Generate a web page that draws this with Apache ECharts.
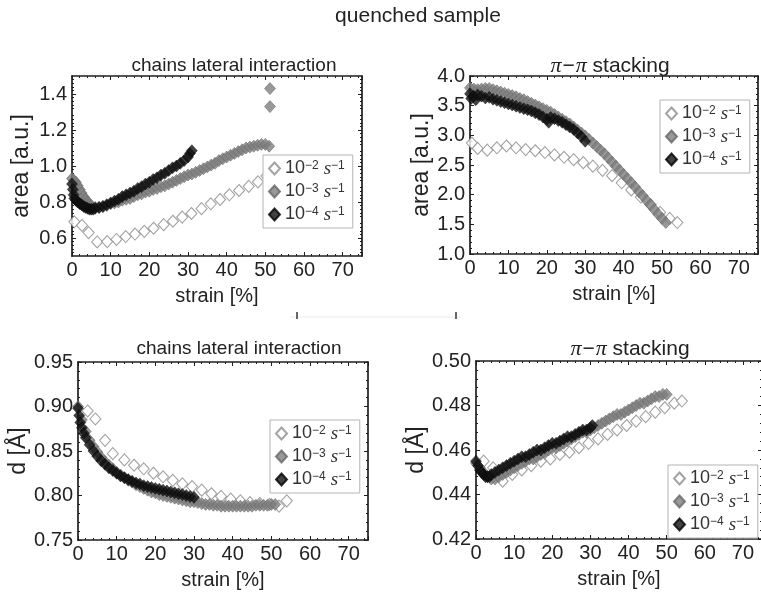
<!DOCTYPE html>
<html><head><meta charset="utf-8">
<script src="https://cdn.jsdelivr.net/npm/echarts@6/dist/echarts.min.js"></script>
<style>html,body{margin:0;padding:0;background:#fff}#c{width:761px;height:592px}</style>
</head><body><div id="c"></div>
<script>
// ---------- data: [strain %, value] ----------
const seriesNames = ['r2', 'r3', 'r4']; // 10^-2, 10^-3, 10^-4 s^-1
const xTicks = [0, 10, 20, 30, 40, 50, 60, 70];

// top-left: area, chains lateral interaction
const areaLatOpen = [[0.6,0.69],[2.6,0.67],[4.3,0.63],[6.5,0.578],[9.1,0.58],[11.5,0.592],[13.9,0.608],[16.3,0.622],[18.7,0.637],[21.1,0.654],[23.7,0.674],[26.1,0.693],[28.5,0.716],[30.9,0.736],[33.5,0.763],[35.9,0.79],[38.3,0.814],[40.7,0.84],[43.2,0.864],[45.7,0.887],[48.1,0.912],[50.3,0.944]];
const areaLatGray = [[0,0.93],[0.5,0.92],[1,0.91],[1.5,0.89],[2,0.87],[2.5,0.85],[3,0.83],[3.5,0.815],[4,0.80],[4.5,0.79],[5,0.78],[6,0.77],[7,0.77],[8,0.775],[9,0.78],[10,0.79],[11,0.795],[12,0.80],[13,0.81],[14,0.815],[15,0.82],[16,0.83],[17,0.84],[18,0.845],[19,0.855],[20,0.86],[21,0.87],[22,0.875],[23,0.885],[24,0.89],[25,0.90],[26,0.91],[27,0.92],[28,0.93],[29,0.94],[30,0.95],[31,0.955],[32,0.965],[33,0.975],[34,0.985],[35,0.995],[36,1.005],[37,1.015],[38,1.03],[39,1.04],[40,1.05],[41,1.06],[42,1.07],[43,1.08],[44,1.09],[45,1.10],[46,1.105],[47,1.11],[48,1.115],[49,1.12],[50,1.12],[51,1.11],[51.2,1.33],[51.2,1.43]];
const areaLatBlack = [[0,0.90],[0.2,0.87],[0.4,0.84],[0.6,0.82],[1,0.81],[1.5,0.80],[2,0.79],[2.5,0.785],[3,0.775],[3.5,0.77],[4,0.765],[4.5,0.76],[5,0.76],[5.5,0.76],[6,0.765],[7,0.77],[8,0.775],[9,0.785],[10,0.795],[11,0.805],[12,0.815],[13,0.83],[14,0.84],[15,0.85],[16,0.86],[17,0.875],[18,0.885],[19,0.90],[20,0.91],[21,0.925],[22,0.935],[23,0.95],[24,0.96],[25,0.975],[26,0.99],[27,1.00],[28,1.015],[29,1.03],[30,1.05],[30.5,1.07],[31,1.085]];

// top-right: area, pi-pi stacking
const areaPiOpen = [[0.5,2.87],[2,2.78],[4.5,2.75],[7,2.79],[9.5,2.82],[12,2.79],[14.5,2.76],[17,2.74],[19.5,2.71],[22,2.67],[24.5,2.63],[27,2.59],[29.5,2.54],[32,2.48],[34.5,2.41],[37,2.32],[39.5,2.20],[42,2.08],[44.5,1.96],[47,1.83],[49.5,1.70],[52,1.60],[54,1.53]];
const areaPiGray = [[0,3.80],[1,3.78],[2,3.77],[3,3.78],[4,3.79],[5,3.79],[6,3.77],[7,3.75],[8,3.73],[9,3.71],[10,3.69],[11,3.67],[12,3.65],[13,3.62],[14,3.60],[15,3.57],[16,3.54],[17,3.51],[18,3.48],[19,3.45],[20,3.42],[21,3.39],[22,3.35],[23,3.31],[24,3.27],[25,3.23],[26,3.19],[27,3.14],[28,3.09],[29,3.04],[30,2.99],[31,2.93],[32,2.87],[33,2.81],[34,2.75],[35,2.69],[36,2.62],[37,2.55],[38,2.48],[39,2.41],[40,2.34],[41,2.27],[42,2.20],[43,2.13],[44,2.05],[45,1.98],[46,1.90],[47,1.83],[48,1.75],[49,1.67],[50,1.60],[51,1.53]];
const areaPiBlack = [[0,3.70],[0.3,3.62],[1,3.66],[1.5,3.60],[2,3.68],[3,3.66],[4,3.63],[5,3.64],[6,3.61],[7,3.59],[8,3.57],[9,3.55],[10,3.53],[11,3.51],[12,3.49],[13,3.47],[14,3.45],[15,3.43],[16,3.41],[17,3.38],[18,3.35],[19,3.31],[20,3.27],[20.5,3.22],[21,3.30],[22,3.28],[23,3.25],[24,3.22],[25,3.18],[26,3.14],[27,3.10],[28,3.04],[29,2.98],[30,2.90]];

// bottom-left: d, chains lateral interaction
const dLatOpen = [[2.5,0.895],[4.5,0.886],[7,0.862],[9,0.847],[12,0.84],[14.5,0.834],[17,0.83],[19.5,0.825],[22,0.821],[24.5,0.817],[27,0.813],[29.5,0.81],[32,0.806],[34.5,0.802],[37,0.799],[39.5,0.796],[42,0.794],[44.5,0.792],[47,0.791],[49.5,0.79],[52,0.788],[54,0.794]];
const dLatGray = [[0,0.90],[1,0.885],[2,0.872],[3,0.862],[4,0.855],[5,0.849],[6,0.843],[7,0.838],[8,0.834],[9,0.83],[10,0.826],[11,0.823],[12,0.82],[13,0.817],[14,0.815],[15,0.812],[16,0.81],[17,0.808],[18,0.806],[19,0.804],[20,0.803],[21,0.801],[22,0.80],[23,0.799],[24,0.798],[25,0.797],[26,0.796],[27,0.795],[28,0.794],[29,0.793],[30,0.793],[31,0.792],[32,0.791],[33,0.79],[34,0.79],[35,0.789],[36,0.789],[37,0.788],[38,0.788],[39,0.788],[40,0.788],[41,0.788],[42,0.788],[43,0.788],[44,0.788],[45,0.788],[46,0.789],[47,0.789],[48,0.789],[49,0.789],[50,0.79],[51,0.79]];
const dLatBlack = [[0,0.898],[0.3,0.89],[0.6,0.882],[1,0.876],[1.5,0.87],[2,0.865],[3,0.857],[4,0.85],[5,0.844],[6,0.839],[7,0.835],[8,0.831],[9,0.828],[10,0.825],[11,0.822],[12,0.82],[13,0.818],[14,0.816],[15,0.814],[16,0.813],[17,0.811],[18,0.81],[19,0.809],[20,0.808],[21,0.807],[22,0.806],[23,0.805],[24,0.804],[25,0.803],[26,0.802],[27,0.801],[28,0.80],[29,0.799],[30,0.798]];

// bottom-right: d, pi-pi stacking
const dPiOpen = [[2,0.455],[4.5,0.452],[7,0.446],[9.5,0.449],[12,0.451],[14.5,0.453],[17,0.455],[19.5,0.456],[22,0.458],[24.5,0.459],[27,0.461],[29.5,0.463],[32,0.465],[34.5,0.467],[37,0.469],[39.5,0.471],[42,0.473],[44.5,0.475],[47,0.477],[49.5,0.479],[52,0.481],[54,0.482]];
const dPiGray = [[0,0.454],[1,0.452],[2,0.45],[3,0.448],[4,0.447],[5,0.447],[6,0.448],[7,0.449],[8,0.45],[9,0.451],[10,0.452],[11,0.453],[12,0.454],[13,0.455],[14,0.456],[15,0.456],[16,0.457],[17,0.458],[18,0.459],[19,0.46],[20,0.461],[21,0.461],[22,0.462],[23,0.463],[24,0.464],[25,0.465],[26,0.466],[27,0.467],[28,0.468],[29,0.468],[30,0.469],[31,0.47],[32,0.471],[33,0.472],[34,0.473],[35,0.474],[36,0.475],[37,0.476],[38,0.476],[39,0.477],[40,0.478],[41,0.479],[42,0.48],[43,0.481],[44,0.481],[45,0.482],[46,0.483],[47,0.484],[48,0.484],[49,0.485],[50,0.485]];
const dPiBlack = [[0,0.455],[0.5,0.453],[1,0.451],[1.5,0.45],[2,0.449],[2.5,0.448],[3,0.448],[3.5,0.448],[4,0.449],[5,0.45],[6,0.451],[7,0.452],[8,0.453],[9,0.454],[10,0.455],[11,0.456],[12,0.457],[13,0.457],[14,0.458],[15,0.459],[16,0.46],[17,0.46],[18,0.461],[19,0.462],[20,0.463],[21,0.463],[22,0.464],[23,0.465],[24,0.466],[25,0.466],[26,0.467],[27,0.468],[28,0.469],[29,0.469],[30,0.47],[30.5,0.471]];

const yLat1Labels = [0.6, 0.8, 1.0, 1.2, 1.4];

// ---------- chart ----------
const F = 'Liberation Sans, Arial, sans-serif';
const AX = '#1e1e1e';
const panels = [
  {grid:{left:72, top:76, width:290, height:180}, y:{min:0.5, max:1.5, interval:0.1, custom:yLat1Labels, dec:1}, yName:'area [a.u.]', yGap:39,
   data:[areaLatOpen, areaLatGray, areaLatBlack], title:'chains lateral interaction', tx:229, ty:51,
   legend:{left:263, top:155}},
  {grid:{left:470, top:76, width:288, height:178}, y:{min:1, max:4, interval:0.5, dec:1}, yName:'area [a.u.]', yGap:32,
   data:[areaPiOpen, areaPiGray, areaPiBlack], title:'π−π stacking', tx:605, ty:50, italicPi:true,
   legend:{left:660, top:100}},
  {grid:{left:78, top:362, width:290, height:178}, y:{min:0.75, max:0.95, interval:0.05, dec:2}, yName:'d [Å]', yGap:44,
   data:[dLatOpen, dLatGray, dLatBlack], title:'chains lateral interaction', tx:234, ty:334,
   legend:{left:270, top:420}},
  {grid:{left:476, top:361, width:286, height:178}, y:{min:0.42, max:0.50, interval:0.02, dec:2}, yName:'d [Å]', yGap:43,
   data:[dPiOpen, dPiGray, dPiBlack], title:'π−π stacking', tx:625, ty:333, italicPi:true,
   legend:{left:668, top:465}}
];

const styles = [
  {symbolSize:[11,12], itemStyle:{color:'#ffffff', borderColor:'#8c8c8c', borderWidth:1.1}},
  {symbolSize:[11,12], itemStyle:{color:'#7e7e7e', borderColor:'#666666', borderWidth:0.7}},
  {symbolSize:[11,12], itemStyle:{color:'#111111', borderColor:'#000000', borderWidth:0.5}}
];

const grids = [], xAxes = [], yAxes = [], series = [], legends = [], titles = [];
titles.push({text:'quenched sample', left:413, top:1, textAlign:'center',
  textStyle:{fontFamily:F, fontSize:21, fontWeight:'normal', color:'#222'}});

function tickCommon() {
  return {
    axisLine:{show:true, onZero:false, lineStyle:{color:AX, width:1.7}},
    axisTick:{show:true, inside:true, length:4, lineStyle:{color:AX, width:1}},
    minorTick:{show:true, splitNumber:5, length:2, lineStyle:{color:AX, width:1}},
    splitLine:{show:false}
  };
}

panels.forEach((p, i) => {
  grids.push(Object.assign({outerBoundsMode:'none', containLabel:false, show:false}, p.grid));
  xAxes.push(Object.assign(tickCommon(), {
    type:'value', gridIndex:i, min:0, max:75, interval:10, position:'bottom',
    axisLabel:{show:true, fontFamily:F, fontSize:20, color:'#222', margin:4,
      formatter: v => (xTicks.indexOf(v) >= 0 ? String(v) : '')},
    name:'strain [%]', nameLocation:'middle', nameGap:30,
    nameTextStyle:{fontFamily:F, fontSize:20, color:'#222'}
  }));
  xAxes.push(Object.assign(tickCommon(), {
    type:'value', gridIndex:i, min:0, max:75, interval:10, position:'top', axisLabel:{show:false}
  }));
  const yl = {show:true, fontFamily:F, fontSize:20, color:'#222', margin:5,
      formatter: v => Number(v).toFixed(p.y.dec)};
  const yt = tickCommon();
  if (p.y.custom) { yl.customValues = p.y.custom; yt.axisTick.customValues = p.y.custom; }
  yAxes.push(Object.assign(yt, {
    type:'value', gridIndex:i, min:p.y.min, max:p.y.max, interval:p.y.interval, position:'left',
    axisLabel: yl,
    name:p.yName, nameLocation:'middle', nameGap:p.yGap,
    nameTextStyle:{fontFamily:F, fontSize:23, color:'#222'}
  }));
  const yt2 = tickCommon();
  if (p.y.custom) { yt2.axisTick.customValues = p.y.custom; }
  yAxes.push(Object.assign(yt2, {
    type:'value', gridIndex:i, min:p.y.min, max:p.y.max, interval:p.y.interval, position:'right',
    axisLabel:{show:false}
  }));
  p.data.forEach((d, k) => {
    series.push(Object.assign({
      type:'scatter', name:seriesNames[k], xAxisIndex:2*i, yAxisIndex:2*i,
      symbol:'diamond', data:d, animation:false, silent:true, z:2+k
    }, JSON.parse(JSON.stringify(styles[k]))));
  });
  legends.push({
    orient:'vertical', left:p.legend.left, top:p.legend.top, data:seriesNames,
    itemWidth:11, itemHeight:12, itemGap:4, padding:[4,8,4,5],
    backgroundColor:'#fff', borderColor:'#b4b4b4', borderWidth:1, selectedMode:false,
    formatter: n => '{b|10}{u|−' + n.slice(1) + '} {i|s}{u|−1}',
    textStyle:{fontFamily:F, fontSize:18, color:'#333',
      rich:{b:{fontFamily:F, fontSize:18, color:'#333', lineHeight:18},
            i:{fontFamily:'Liberation Serif, serif', fontStyle:'italic', fontSize:19, color:'#333', lineHeight:18},
            u:{fontFamily:F, fontSize:12, color:'#333', verticalAlign:'top', lineHeight:10}}}
  });
  titles.push({
    text: p.italicPi ? '{p|π}{m|−}{p|π} stacking' : p.title, left:p.tx, top:p.ty, textAlign:'center',
    textStyle:{fontFamily:F, fontSize: p.italicPi ? 21 : 19, fontWeight:'normal', color:'#222',
      rich:{p:{fontFamily:'Liberation Serif, serif', fontStyle:'italic', fontSize:22, color:'#222'},
            m:{fontFamily:F, fontSize:21, color:'#222', padding:[0,1,0,1]}}}
  });
});

const chart = echarts.init(document.getElementById('c'), null, {renderer:'canvas'});
chart.setOption({
  backgroundColor:'#fff',
  animation:false,
  title: titles,
  grid: grids,
  xAxis: xAxes,
  yAxis: yAxes,
  legend: legends,
  series: series,
  graphic: [
    {type:'line', shape:{x1:290, y1:317, x2:462, y2:317}, style:{stroke:'#ececec', lineWidth:1}, silent:true},
    {type:'line', shape:{x1:297, y1:312, x2:297, y2:319}, style:{stroke:'#333', lineWidth:1.5}, silent:true},
    {type:'line', shape:{x1:456, y1:312, x2:456, y2:319}, style:{stroke:'#333', lineWidth:1.5}, silent:true}
  ]
});
</script></body></html>
